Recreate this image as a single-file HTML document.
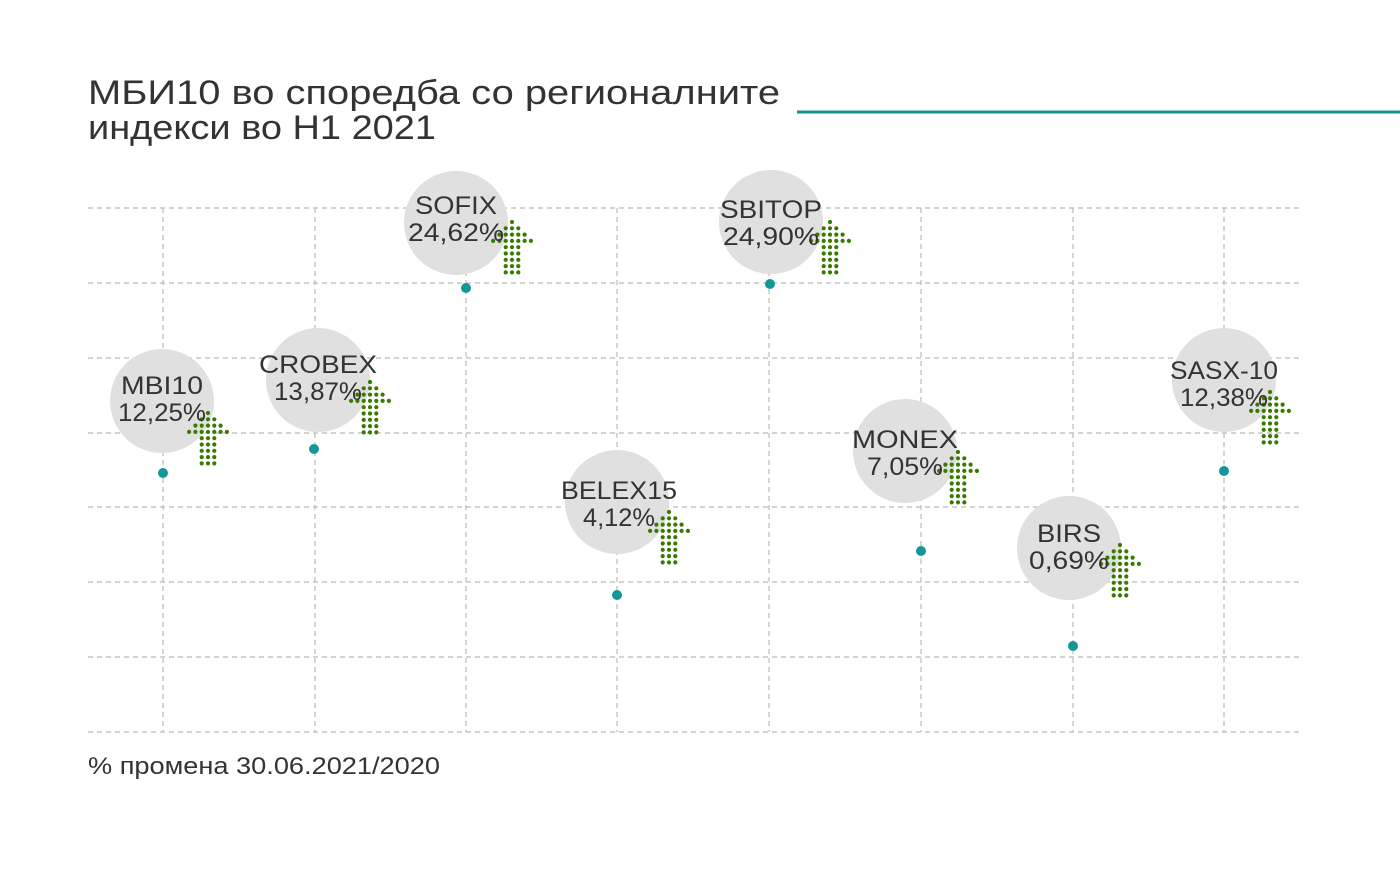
<!DOCTYPE html><html><head><style>body{margin:0;background:#fff}svg{display:block}text{font-family:"Liberation Sans",sans-serif;fill:#333}</style></head><body>
<svg width="1400" height="890" xmlns="http://www.w3.org/2000/svg" xmlns:xlink="http://www.w3.org/1999/xlink">
<defs>
<g id="arr" fill="#3a7a00">
<circle cx="0" cy="0" r="2.1"/>
<circle cx="-6.3" cy="6.3" r="2.1"/><circle cx="0" cy="6.3" r="2.1"/><circle cx="6.3" cy="6.3" r="2.1"/>
<circle cx="-12.6" cy="12.6" r="2.1"/><circle cx="-6.3" cy="12.6" r="2.1"/><circle cx="0" cy="12.6" r="2.1"/><circle cx="6.3" cy="12.6" r="2.1"/><circle cx="12.6" cy="12.6" r="2.1"/>
<circle cx="-18.9" cy="18.9" r="2.1"/><circle cx="-12.6" cy="18.9" r="2.1"/><circle cx="-6.3" cy="18.9" r="2.1"/><circle cx="0" cy="18.9" r="2.1"/><circle cx="6.3" cy="18.9" r="2.1"/><circle cx="12.6" cy="18.9" r="2.1"/><circle cx="18.9" cy="18.9" r="2.1"/>
<circle cx="-6.3" cy="25.2" r="2.1"/><circle cx="0" cy="25.2" r="2.1"/><circle cx="6.3" cy="25.2" r="2.1"/>
<circle cx="-6.3" cy="31.5" r="2.1"/><circle cx="0" cy="31.5" r="2.1"/><circle cx="6.3" cy="31.5" r="2.1"/>
<circle cx="-6.3" cy="37.8" r="2.1"/><circle cx="0" cy="37.8" r="2.1"/><circle cx="6.3" cy="37.8" r="2.1"/>
<circle cx="-6.3" cy="44.1" r="2.1"/><circle cx="0" cy="44.1" r="2.1"/><circle cx="6.3" cy="44.1" r="2.1"/>
<circle cx="-6.3" cy="50.4" r="2.1"/><circle cx="0" cy="50.4" r="2.1"/><circle cx="6.3" cy="50.4" r="2.1"/>
</g>
</defs>
<text x="88" y="104" font-size="34" textLength="692" lengthAdjust="spacingAndGlyphs">МБИ10 во споредба со регионалните</text>
<text x="88" y="139" font-size="34" textLength="348" lengthAdjust="spacingAndGlyphs">индекси во H1 2021</text>
<line x1="797" y1="112" x2="1400" y2="112" stroke="#12918e" stroke-width="3"/>
<g stroke="#bbb" stroke-width="1.2" stroke-dasharray="5,4" fill="none">
<path d="M88 208H1300M88 283H1300M88 358H1300M88 433H1300M88 507H1300M88 582H1300M88 657H1300M88 732H1300"/>
<path d="M163 208V732M315 208V732M466 208V732M617 208V732M769 208V732M921 208V732M1073 208V732M1224 208V732"/>
</g>
<g fill="#e0e0e0">
<circle cx="162" cy="401" r="52"/><circle cx="318" cy="380" r="52"/><circle cx="456" cy="223" r="52"/><circle cx="617" cy="502" r="52"/>
<circle cx="771" cy="222" r="52"/><circle cx="905" cy="451" r="52"/><circle cx="1069" cy="548" r="52"/><circle cx="1224" cy="380" r="52"/>
</g>
<g fill="#12979a">
<circle cx="163" cy="473" r="5"/><circle cx="314" cy="449" r="5"/><circle cx="466" cy="288" r="5"/><circle cx="617" cy="595" r="5"/>
<circle cx="770" cy="284" r="5"/><circle cx="921" cy="551" r="5"/><circle cx="1073" cy="646" r="5"/><circle cx="1224" cy="471" r="5"/>
</g>
<use xlink:href="#arr" x="208" y="413"/>
<use xlink:href="#arr" x="370" y="382"/>
<use xlink:href="#arr" x="512" y="222"/>
<use xlink:href="#arr" x="669" y="512"/>
<use xlink:href="#arr" x="830" y="222"/>
<use xlink:href="#arr" x="958" y="452"/>
<use xlink:href="#arr" x="1120" y="545"/>
<use xlink:href="#arr" x="1270" y="392"/>
<g font-size="25" text-anchor="middle">
<text x="162" y="394" textLength="82" lengthAdjust="spacingAndGlyphs">MBI10</text><text x="162" y="421" textLength="88" lengthAdjust="spacingAndGlyphs">12,25%</text>
<text x="318" y="373" textLength="118" lengthAdjust="spacingAndGlyphs">CROBEX</text><text x="318" y="400" textLength="88" lengthAdjust="spacingAndGlyphs">13,87%</text>
<text x="456" y="214" textLength="82" lengthAdjust="spacingAndGlyphs">SOFIX</text><text x="456" y="241" textLength="96" lengthAdjust="spacingAndGlyphs">24,62%</text>
<text x="619" y="499" textLength="116" lengthAdjust="spacingAndGlyphs">BELEX15</text><text x="619" y="526" textLength="72" lengthAdjust="spacingAndGlyphs">4,12%</text>
<text x="771" y="218" textLength="102" lengthAdjust="spacingAndGlyphs">SBITOP</text><text x="771" y="245" textLength="96" lengthAdjust="spacingAndGlyphs">24,90%</text>
<text x="905" y="448" textLength="106" lengthAdjust="spacingAndGlyphs">MONEX</text><text x="905" y="475" textLength="76" lengthAdjust="spacingAndGlyphs">7,05%</text>
<text x="1069" y="542" textLength="64" lengthAdjust="spacingAndGlyphs">BIRS</text><text x="1069" y="569" textLength="80" lengthAdjust="spacingAndGlyphs">0,69%</text>
<text x="1224" y="379" textLength="108" lengthAdjust="spacingAndGlyphs">SASX-10</text><text x="1224" y="406" textLength="88" lengthAdjust="spacingAndGlyphs">12,38%</text>
</g>
<text x="88" y="774" font-size="24" textLength="352" lengthAdjust="spacingAndGlyphs">% промена 30.06.2021/2020</text>
</svg></body></html>
